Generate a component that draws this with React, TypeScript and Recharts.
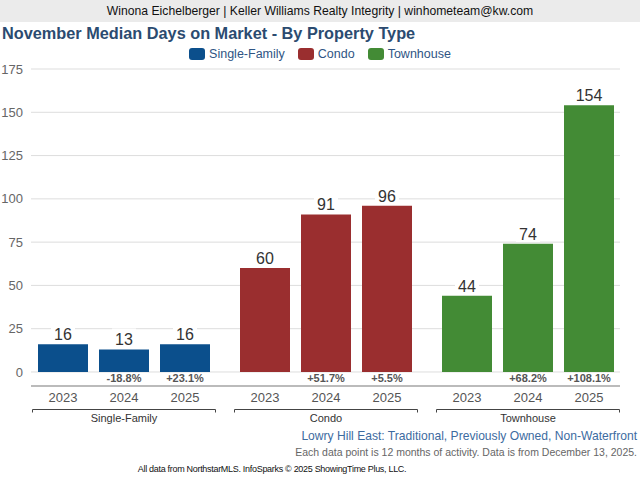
import React from "react";
import { BarChart, Bar, XAxis, YAxis, CartesianGrid, LabelList, Cell } from "recharts";

const propertyTypes = ["Single-Family", "Condo", "Townhouse"];
const years = ["2023", "2024", "2025"];
const days2023 = [16, 60, 44];
const days2024 = [13, 91, 74];
const days2025 = [16, 96, 154];
const typeColors = ["#0b4f8c", "#9a2e2f", "#438b35"];
const yTicks = [0, 25, 50, 75, 100, 125, 150, 175];

const pct = (cur: number, prev: number) => {
  const v = ((cur - prev) / prev) * 100;
  return (v >= 0 ? "+" : "") + v.toFixed(1) + "%";
};

const data = propertyTypes.map((t, i) => ({
  type: t,
  y2023: days2023[i],
  y2024: days2024[i],
  y2025: days2025[i],
  c2024: pct(days2024[i], days2023[i]),
  c2025: pct(days2025[i], days2024[i]),
}));

const FONT = "'Liberation Sans', Arial, Helvetica, sans-serif";

const ValueLabel = (props: any) => {
  const { x, y, width, value } = props;
  const cx = Number(x) + Number(width) / 2;
  const s = String(value);
  const w = s.length * 9 + 6;
  return (
    <g>
      <rect x={cx - w / 2} y={Number(y) - 21} width={w} height={19} fill="#ffffff" />
      <text x={cx} y={Number(y) - 4} textAnchor="middle" fontSize={16} fill="#333333" fontFamily={FONT}>
        {s}
      </text>
    </g>
  );
};

const ChangeLabel = (props: any) => {
  const { x, y, width, height, value } = props;
  const cx = Number(x) + Number(width) / 2;
  const base = Number(y) + Number(height);
  return (
    <text x={cx} y={base + 10} textAnchor="middle" fontSize={11} fontWeight="bold" fill="#555555" fontFamily={FONT}>
      {String(value)}
    </text>
  );
};

const GroupTick = (props: any) => {
  const { x, y, payload } = props;
  return (
    <g>
      {years.map((yr, k) => (
        <text key={yr} x={x + (k - 1) * 61} y={y + 16} textAnchor="middle" fontSize={13} fill="#555555" fontFamily={FONT}>
          {yr}
        </text>
      ))}
      <path
        d={`M${x - 91.5},${y + 26.5}V${y + 23.5}H${x + 91.5}V${y + 26.5}`}
        stroke="#444444"
        strokeWidth={1}
        fill="none"
      />
      <text x={x} y={y + 36} textAnchor="middle" fontSize={11} fill="#333333" fontFamily={FONT}>
        {payload.value}
      </text>
    </g>
  );
};

const legendItems = propertyTypes.map((t, i) => ({ name: t, color: typeColors[i] }));

export default function App() {
  return (
    <div style={{ position: "relative", width: 640, height: 480, background: "#ffffff", fontFamily: FONT, overflow: "hidden" }}>
      <style>{`body{margin:0}`}</style>
      <div
        style={{
          position: "absolute",
          left: 0,
          top: 0,
          width: 640,
          height: 22,
          background: "#ebebeb",
          textAlign: "center",
          lineHeight: "22px",
          fontSize: 12.2,
          color: "#111111",
        }}
      >
        Winona Eichelberger | Keller Williams Realty Integrity | winhometeam@kw.com
      </div>
      <div
        style={{
          position: "absolute",
          left: 2,
          top: 23,
          fontSize: 16.3,
          fontWeight: "bold",
          color: "#2b4b70",
          lineHeight: "20px",
          whiteSpace: "nowrap",
        }}
      >
        November Median Days on Market - By Property Type
      </div>
      <div
        style={{
          position: "absolute",
          left: 0,
          top: 45,
          width: 640,
          display: "flex",
          justifyContent: "center",
          fontSize: 12.5,
          color: "#2f5584",
          lineHeight: "18px",
        }}
      >
        {legendItems.map((it, i) => (
          <div key={it.name} style={{ display: "flex", alignItems: "center", marginLeft: i === 0 ? 0 : 13 }}>
            <span
              style={{
                display: "inline-block",
                width: 16,
                height: 12,
                borderRadius: 3,
                background: it.color,
                marginRight: 4,
              }}
            />
            <span>{it.name}</span>
          </div>
        ))}
      </div>
      <div style={{ position: "absolute", left: 0, top: 0 }}>
        <BarChart
          width={640}
          height={430}
          data={data}
          margin={{ top: 69, right: 20, bottom: 4, left: 0 }}
          barSize={50}
          barGap={11}
        >
          <CartesianGrid horizontal={true} vertical={false} stroke="#dddddd" />
          <YAxis
            type="number"
            domain={[-8.1, 175]}
            ticks={yTicks}
            width={31}
            axisLine={false}
            tickLine={false}
            tickSize={0}
            tickMargin={8}
            tick={{ fontSize: 13, fill: "#666666", fontFamily: FONT }}
            allowDataOverflow={true}
          />
          <XAxis
            dataKey="type"
            height={40}
            tickLine={false}
            tickSize={0}
            tickMargin={0}
            axisLine={{ stroke: "#888888" }}
            padding={{ left: -8, right: -9 }}
            tick={<GroupTick />}
            interval={0}
          />
          <Bar dataKey="y2023" isAnimationActive={false}>
            {data.map((d, i) => (
              <Cell key={d.type} fill={typeColors[i]} />
            ))}
            <LabelList dataKey="y2023" content={ValueLabel} />
          </Bar>
          <Bar dataKey="y2024" isAnimationActive={false}>
            {data.map((d, i) => (
              <Cell key={d.type} fill={typeColors[i]} />
            ))}
            <LabelList dataKey="y2024" content={ValueLabel} />
            <LabelList dataKey="c2024" content={ChangeLabel} />
          </Bar>
          <Bar dataKey="y2025" isAnimationActive={false}>
            {data.map((d, i) => (
              <Cell key={d.type} fill={typeColors[i]} />
            ))}
            <LabelList dataKey="y2025" content={ValueLabel} />
            <LabelList dataKey="c2025" content={ChangeLabel} />
          </Bar>
        </BarChart>
      </div>
      <div
        style={{
          position: "absolute",
          right: 3,
          top: 428,
          fontSize: 12.1,
          color: "#3d6b9f",
          whiteSpace: "nowrap",
          lineHeight: "16px",
        }}
      >
        Lowry Hill East: Traditional, Previously Owned, Non-Waterfront
      </div>
      <div
        style={{
          position: "absolute",
          right: 3,
          top: 445,
          fontSize: 10.5,
          color: "#666666",
          whiteSpace: "nowrap",
          lineHeight: "14px",
        }}
      >
        Each data point is 12 months of activity. Data is from December 13, 2025.
      </div>
      <div
        style={{
          position: "absolute",
          left: 0,
          width: 544,
          top: 463,
          fontSize: 9,
          color: "#111111",
          textAlign: "center",
          whiteSpace: "nowrap",
          lineHeight: "12px",
          letterSpacing: -0.3,
        }}
      >
        All data from NorthstarMLS. InfoSparks © 2025 ShowingTime Plus, LLC.
      </div>
    </div>
  );
}
